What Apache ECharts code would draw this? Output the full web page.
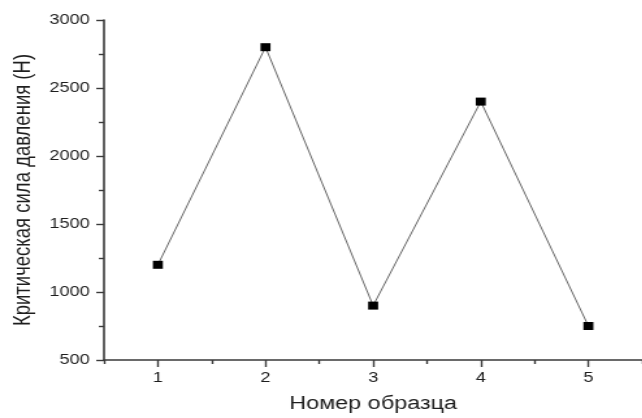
<!DOCTYPE html>
<html>
<head>
<meta charset="utf-8">
<script src="https://cdn.jsdelivr.net/npm/echarts@6/dist/echarts.min.js"></script>
<style>
  html, body { margin: 0; padding: 0; background: #fff; overflow: hidden; }
  /* the plot is drawn narrow and widened horizontally */
  #chart { width: 494px; height: 418px; transform: scaleX(1.3); transform-origin: 0 0; }
</style>
</head>
<body>
<div id="chart"></div>
<script>
// Sample numbers (x) and critical pressure force in newtons (y)
const sampleNumbers = ['1', '2', '3', '4', '5'];
const criticalForce = [1200, 2800, 900, 2400, 750];

// Y-axis range and step
const yMin = 500;
const yMax = 3000;
const yStep = 500;

const xTitle = 'Номер образца';
const yTitle = 'Критическая сила давления (Н)';

const FONT = '"Liberation Sans", Arial, sans-serif';
const AXIS_COLOR = '#3a3a3a';
const TEXT_COLOR = '#1e1e1e';

const chart = echarts.init(document.getElementById('chart'), null, { renderer: 'canvas' });

chart.setOption({
  backgroundColor: '#fff',
  animation: false,
  grid: { left: 73.5, top: 20, width: 425, height: 345, containLabel: false },
  xAxis: [
    {
      type: 'category',
      data: sampleNumbers,
      boundaryGap: true,
      name: xTitle,
      nameLocation: 'middle',
      nameGap: 35,
      nameTextStyle: { fontFamily: FONT, fontSize: 18, color: TEXT_COLOR },
      axisLine: { show: true, lineStyle: { color: AXIS_COLOR, width: 1.6 } },
      axisTick: { show: true, alignWithLabel: true, length: 7, lineStyle: { color: AXIS_COLOR, width: 1.4 } },
      axisLabel: { fontFamily: FONT, fontSize: 14, color: TEXT_COLOR, margin: 11 },
      splitLine: { show: false }
    },
    {
      // half-step ticks between sample numbers
      type: 'category',
      data: sampleNumbers,
      boundaryGap: true,
      position: 'bottom',
      axisLine: { show: false },
      axisTick: { show: true, length: 4, lineStyle: { color: AXIS_COLOR, width: 1.4 } },
      axisLabel: { show: false },
      splitLine: { show: false }
    }
  ],
  yAxis: {
    type: 'value',
    min: yMin,
    max: yMax,
    interval: yStep,
    name: yTitle,
    nameLocation: 'middle',
    nameGap: 50,
    nameTextStyle: { fontFamily: FONT, fontSize: 18.5, color: TEXT_COLOR },
    axisLine: { show: true, lineStyle: { color: AXIS_COLOR, width: 1.6 } },
    axisTick: { show: true, length: 6, lineStyle: { color: AXIS_COLOR, width: 1.4 } },
    minorTick: { show: true, splitNumber: 2, length: 4, lineStyle: { color: AXIS_COLOR, width: 1.4 } },
    axisLabel: {
      fontFamily: FONT, fontSize: 14, color: TEXT_COLOR, margin: 11,
      formatter: (v) => String(v)
    },
    splitLine: { show: false },
    minorSplitLine: { show: false }
  },
  series: [{
    type: 'line',
    xAxisIndex: 0,
    data: criticalForce,
    symbol: 'rect',
    symbolSize: [7.7, 8],
    showAllSymbol: true,
    itemStyle: { color: '#000' },
    lineStyle: { color: '#555', width: 0.9 },
    z: 3
  }]
});
</script>
</body>
</html>
